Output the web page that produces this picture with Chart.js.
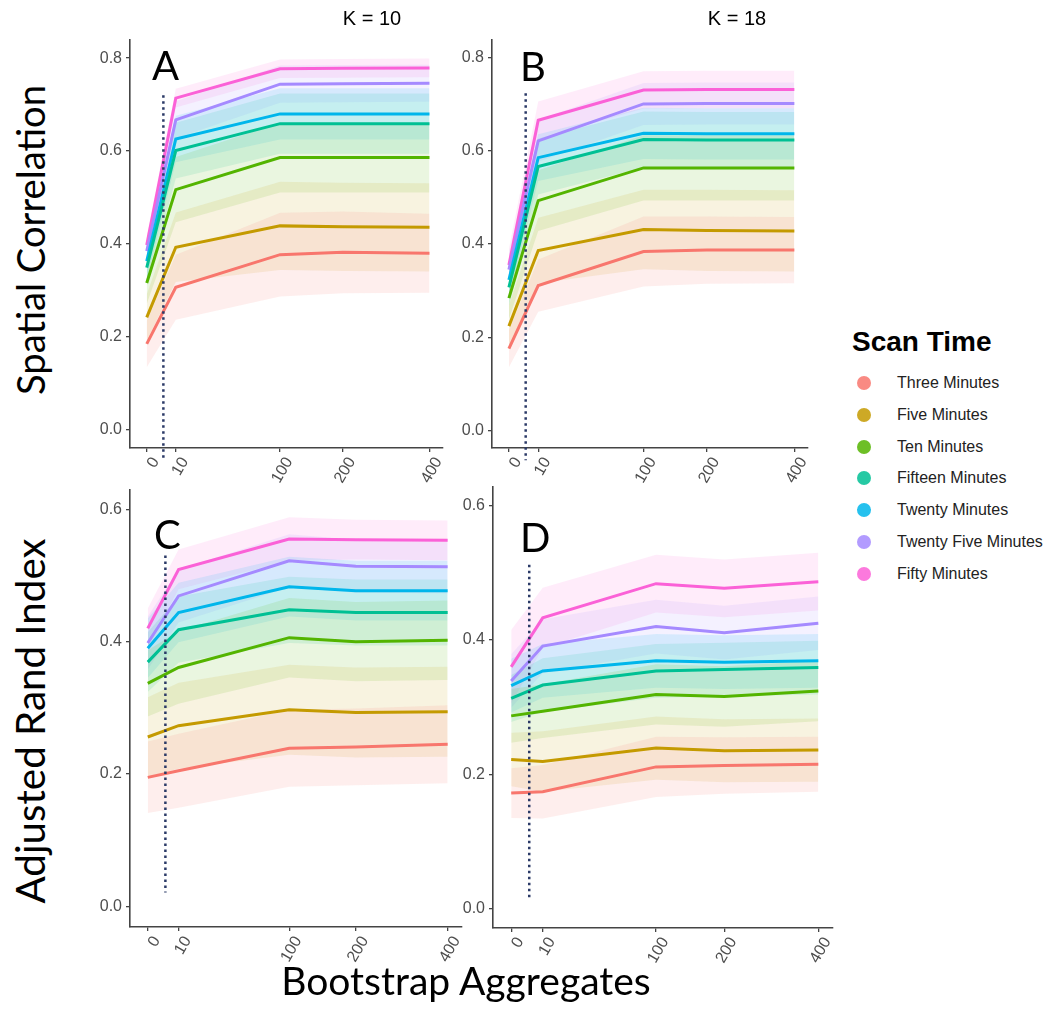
<!DOCTYPE html>
<html>
<head>
<meta charset="utf-8">
<script src="https://cdn.jsdelivr.net/npm/chart.js@4.4.0/dist/chart.umd.min.js"></script>
<style>
  body { margin: 0; background: #fff; width: 1050px; height: 1019px; position: relative; overflow: hidden; font-family: "Liberation Sans", Arial, sans-serif; }
  canvas { position: absolute; }
  .txt { position: absolute; white-space: nowrap; line-height: 1; color: #000; }
  .big { font-family: Lato, "Liberation Sans", sans-serif; }
  .center { transform: translate(-50%, -50%); }
  .vert { transform: translate(-50%, -50%) rotate(-90deg); }
  .item { position: absolute; left: 857px; height: 20px; display: flex; align-items: center; font-size: 16px; color: #222; }
  .dot { width: 14px; height: 14px; border-radius: 50%; margin-right: 26px; opacity: 0.85; }
</style>
</head>
<body>
<canvas id="chartA"></canvas>
<canvas id="chartB"></canvas>
<canvas id="chartC"></canvas>
<canvas id="chartD"></canvas>

<div class="txt big vert" id="ytitleTop" style="left:30px; top:240px;">Spatial Correlation</div>
<div class="txt big vert" id="ytitleBottom" style="left:30px; top:721px;">Adjusted Rand Index</div>
<div class="txt big center" id="xtitle" style="left:466px; top:980px;">Bootstrap Aggregates</div>
<div class="txt center" style="left:372px; top:18px; font-size:20px;">K = 10</div>
<div class="txt center" style="left:737px; top:18px; font-size:20px;">K = 18</div>
<div class="txt big" style="left:152px; top:45px; font-size:40px;">A</div>
<div class="txt big" style="left:520px; top:46px; font-size:40px;">B</div>
<div class="txt big" style="left:154px; top:514px; font-size:40px;">C</div>
<div class="txt big" style="left:520px; top:517px; font-size:40px;">D</div>
<div class="txt" style="left:852px; top:328px; font-size:28px; font-weight:bold;">Scan Time</div>
<div id="legend"></div>

<script>
// x = number of bootstrap aggregates
const xValues = [0, 10, 100, 200, 400];
const cutoffX = 5;
const seriesNames = ['Three Minutes', 'Five Minutes', 'Ten Minutes', 'Fifteen Minutes',
  'Twenty Minutes', 'Twenty Five Minutes', 'Fifty Minutes'];
const seriesColors = ['#F8766D', '#C49A00', '#53B400', '#00C094', '#00B6EB', '#A58AFF', '#FB61D7'];
const yTicksTop = [0, 0.2, 0.4, 0.6, 0.8];
const yTicksBottom = [0, 0.2, 0.4, 0.6];

// A: spatial correlation, K = 10 (one row per scan time)
const meanA = [
  [0.185, 0.307, 0.377, 0.382, 0.380],
  [0.242, 0.393, 0.439, 0.437, 0.436],
  [0.316, 0.517, 0.586, 0.586, 0.586],
  [0.349, 0.601, 0.659, 0.659, 0.659],
  [0.363, 0.626, 0.680, 0.680, 0.680],
  [0.385, 0.667, 0.744, 0.745, 0.746],
  [0.398, 0.714, 0.777, 0.778, 0.779]
];
const sdA = [
  [0.050, 0.070, 0.090, 0.088, 0.085],
  [0.050, 0.075, 0.095, 0.095, 0.095],
  [0.045, 0.070, 0.075, 0.075, 0.075],
  [0.040, 0.060, 0.065, 0.065, 0.065],
  [0.040, 0.050, 0.055, 0.055, 0.055],
  [0.030, 0.040, 0.040, 0.040, 0.040],
  [0.020, 0.020, 0.020, 0.020, 0.020]
];
const cutA = [0.72, -0.065];

// B: spatial correlation, K = 18
const meanB = [
  [0.176, 0.311, 0.384, 0.387, 0.387],
  [0.224, 0.386, 0.431, 0.429, 0.428],
  [0.284, 0.493, 0.563, 0.563, 0.563],
  [0.307, 0.566, 0.624, 0.623, 0.623],
  [0.323, 0.585, 0.637, 0.636, 0.636],
  [0.345, 0.621, 0.700, 0.701, 0.701],
  [0.355, 0.665, 0.730, 0.731, 0.731]
];
const sdB = [
  [0.040, 0.056, 0.075, 0.072, 0.071],
  [0.045, 0.070, 0.085, 0.087, 0.087],
  [0.045, 0.065, 0.070, 0.070, 0.070],
  [0.040, 0.060, 0.060, 0.060, 0.060],
  [0.040, 0.050, 0.055, 0.055, 0.055],
  [0.035, 0.045, 0.045, 0.045, 0.045],
  [0.035, 0.040, 0.040, 0.040, 0.040]
];
const cutB = [0.723, -0.063];

// C: adjusted rand index, K = 10
const meanC = [
  [0.195, 0.205, 0.239, 0.241, 0.245],
  [0.256, 0.273, 0.297, 0.293, 0.294],
  [0.337, 0.361, 0.406, 0.400, 0.402],
  [0.369, 0.418, 0.448, 0.444, 0.444],
  [0.390, 0.444, 0.483, 0.477, 0.477],
  [0.398, 0.469, 0.522, 0.514, 0.513],
  [0.420, 0.509, 0.555, 0.554, 0.553]
];
const sdC = [
  [0.054, 0.056, 0.058, 0.058, 0.059],
  [0.060, 0.065, 0.068, 0.068, 0.068],
  [0.050, 0.055, 0.060, 0.060, 0.060],
  [0.045, 0.050, 0.050, 0.050, 0.050],
  [0.045, 0.045, 0.045, 0.045, 0.045],
  [0.040, 0.040, 0.040, 0.040, 0.040],
  [0.030, 0.030, 0.033, 0.030, 0.030]
];
const cutC = [0.53, 0.021];

// D: adjusted rand index, K = 18
const meanD = [
  [0.172, 0.174, 0.211, 0.213, 0.215],
  [0.222, 0.219, 0.239, 0.235, 0.236],
  [0.287, 0.294, 0.319, 0.316, 0.324],
  [0.313, 0.333, 0.354, 0.356, 0.359],
  [0.332, 0.354, 0.369, 0.367, 0.369],
  [0.339, 0.391, 0.420, 0.411, 0.425],
  [0.360, 0.433, 0.484, 0.477, 0.487]
];
const sdD = [
  [0.037, 0.040, 0.045, 0.042, 0.041],
  [0.040, 0.045, 0.047, 0.047, 0.047],
  [0.040, 0.040, 0.045, 0.045, 0.045],
  [0.035, 0.040, 0.040, 0.040, 0.040],
  [0.040, 0.040, 0.040, 0.040, 0.040],
  [0.040, 0.040, 0.040, 0.040, 0.040],
  [0.055, 0.045, 0.043, 0.043, 0.043]
];
const cutD = [0.512, 0.012];

const FONT = '"Liberation Sans", Arial, sans-serif';

// x axis is a power scale like the original ggplot transform
class PowScale extends Chart.LinearScale {
  static id = 'pow';
  static defaults = Chart.LinearScale.defaults;
  tf(v) { return Math.pow(v + 5, 0.45); }
  getPixelForValue(v) {
    const a = this.tf(this.min), b = this.tf(this.max);
    return this.getPixelForDecimal((this.tf(v) - a) / (b - a));
  }
  getValueForPixel(p) {
    const a = this.tf(this.min), b = this.tf(this.max);
    return Math.pow(a + this.getDecimalForPixel(p) * (b - a), 1 / 0.45) - 5;
  }
}
Chart.register(PowScale);

function rgba(hex, a) {
  const n = parseInt(hex.slice(1), 16);
  return `rgba(${n >> 16}, ${(n >> 8) & 255}, ${n & 255}, ${a})`;
}

function axisStyle() {
  return {
    grid: { display: true, drawOnChartArea: false, drawTicks: true, tickLength: 4, color: '#444', lineWidth: 1.3 },
    border: { display: true, color: '#444', width: 1.6 }
  };
}

function makePanel(id, area, mean, sd, yMin, yMax, yTicks, cut) {
  const c = document.getElementById(id);
  const left = area.l - 60, top = area.t - 15;
  c.width = area.r + 15 - left;
  c.height = area.b + 55 - top;
  c.style.left = left + 'px';
  c.style.top = top + 'px';

  const datasets = [];
  mean.forEach((m, i) => {
    const col = seriesColors[i];
    datasets.push({
      data: xValues.map((x, j) => ({ x: x, y: m[j] + sd[i][j] })),
      borderColor: 'transparent', borderWidth: 0, pointRadius: 0,
      backgroundColor: rgba(col, 0.12), fill: '+1', order: 2
    });
    datasets.push({
      data: xValues.map((x, j) => ({ x: x, y: m[j] - sd[i][j] })),
      borderColor: 'transparent', borderWidth: 0, pointRadius: 0, fill: false, order: 2
    });
  });
  mean.forEach((m, i) => {
    datasets.push({
      data: xValues.map((x, j) => ({ x: x, y: m[j] })),
      borderColor: seriesColors[i], borderWidth: 3, pointRadius: 0, fill: false, order: 1
    });
  });
  datasets.push({
    data: [{ x: cutoffX, y: cut[0] }, { x: cutoffX, y: cut[1] }],
    borderColor: '#2B3A67', borderWidth: 2.5, borderDash: [2.5, 3.5],
    pointRadius: 0, fill: false, order: 0, clip: false
  });

  new Chart(c, {
    type: 'line',
    data: { datasets: datasets },
    options: {
      responsive: false,
      animation: false,
      layout: { padding: { top: 15, right: 15, left: 0, bottom: 0 } },
      plugins: { legend: { display: false }, tooltip: { enabled: false } },
      scales: {
        x: Object.assign({
          type: 'pow', min: -3.2, max: 438,
          afterBuildTicks: s => { s.ticks = xValues.map(v => ({ value: v })); },
          afterFit: s => { s.height = 55; },
          ticks: { minRotation: 60, maxRotation: 60, autoSkip: false, color: '#4D4D4D',
                   font: { family: FONT, size: 16 }, labelOffset: 9, padding: 2,
                   callback: v => String(v) }
        }, axisStyle()),
        y: Object.assign({
          type: 'linear', min: yMin, max: yMax,
          afterBuildTicks: s => { s.ticks = yTicks.map(v => ({ value: v })); },
          afterFit: s => { s.width = 60; },
          ticks: { color: '#4D4D4D', font: { family: FONT, size: 16 }, padding: 4,
                   callback: v => Number(v).toFixed(1) }
        }, axisStyle())
      }
    }
  });
}

makePanel('chartA', { l: 130, r: 443, t: 40, b: 448 }, meanA, sdA, -0.039, 0.839, yTicksTop, cutA);
makePanel('chartB', { l: 492, r: 808, t: 40, b: 448 }, meanB, sdB, -0.037, 0.837, yTicksTop, cutB);
makePanel('chartC', { l: 130, r: 462, t: 490, b: 927 }, meanC, sdC, -0.031, 0.629, yTicksBottom, cutC);
makePanel('chartD', { l: 493, r: 833, t: 487, b: 928 }, meanD, sdD, -0.029, 0.628, yTicksBottom, cutD);

// legend
const legend = document.getElementById('legend');
seriesNames.forEach((name, i) => {
  const row = document.createElement('div');
  row.className = 'item';
  row.style.top = (382.7 + i * 31.9 - 10) + 'px';
  const dot = document.createElement('span');
  dot.className = 'dot';
  dot.style.background = seriesColors[i];
  row.appendChild(dot);
  row.appendChild(document.createTextNode(name));
  legend.appendChild(row);
});

// fit the large titles to their widths in the figure
function fitText(id, target) {
  const el = document.getElementById(id);
  const ctx = document.createElement('canvas').getContext('2d');
  ctx.font = '100px ' + getComputedStyle(el).fontFamily;
  el.style.fontSize = (100 * target / ctx.measureText(el.textContent).width) + 'px';
}
fitText('ytitleTop', 310);
fitText('ytitleBottom', 365);
fitText('xtitle', 371);
</script>
</body>
</html>
